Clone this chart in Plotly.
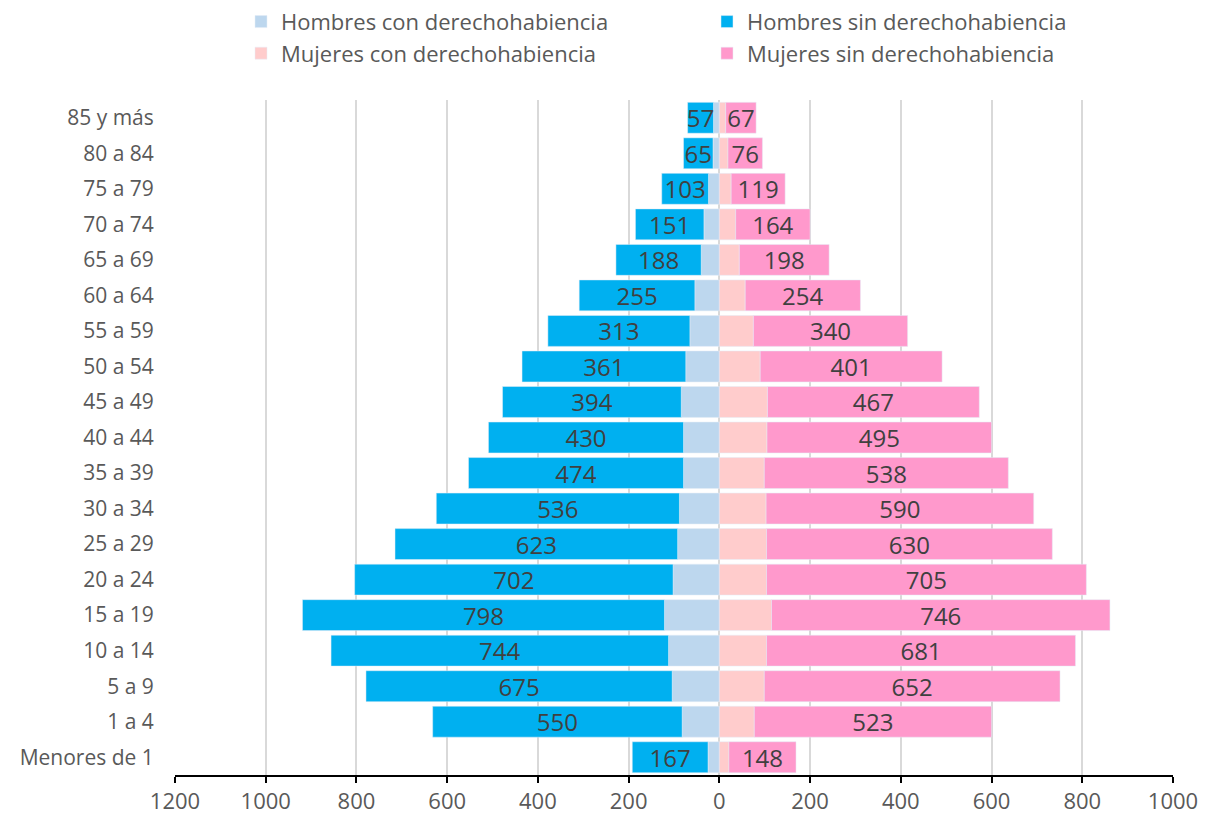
import plotly.graph_objects as go

# Grupos de edad (de arriba hacia abajo en la gráfica)
grupos = ["85 y más", "80 a 84", "75 a 79", "70 a 74", "65 a 69", "60 a 64",
          "55 a 59", "50 a 54", "45 a 49", "40 a 44", "35 a 39", "30 a 34",
          "25 a 29", "20 a 24", "15 a 19", "10 a 14", "5 a 9", "1 a 4",
          "Menores de 1"]

hombres_con = [13, 14, 24, 34, 40, 54, 65, 74, 84, 79, 79, 88,
               92, 102, 121, 112, 104, 82, 25]
hombres_sin = [57, 65, 103, 151, 188, 255, 313, 361, 394, 430, 474, 536,
               623, 702, 798, 744, 675, 550, 167]
mujeres_con = [14, 19, 26, 36, 44, 57, 75, 90, 106, 105, 99, 103,
               104, 104, 115, 104, 99, 77, 21]
mujeres_sin = [67, 76, 119, 164, 198, 254, 340, 401, 467, 495, 538, 590,
               630, 705, 746, 681, 652, 523, 148]

tick_vals = [-1200, -1000, -800, -600, -400, -200, 0, 200, 400, 600, 800, 1000]
tick_text = [str(abs(v)) for v in tick_vals]

label_font = dict(family="Open Sans", size=24, color="#404040")
etiquetas = dict(textposition="inside", insidetextanchor="middle",
                 textangle=0, textfont=label_font, constraintext="none",
                 cliponaxis=False, hoverinfo="skip")

fig = go.Figure()
fig.add_trace(go.Bar(
    y=grupos, x=[-v for v in hombres_con], orientation="h",
    name="Hombres con derechohabiencia", marker_color="#bdd7ee",
    legend="legend", legendgroup="a", hoverinfo="skip"))
fig.add_trace(go.Bar(
    y=grupos, x=[-v for v in hombres_sin], orientation="h",
    name="Hombres sin derechohabiencia", marker_color="#00b0f0",
    legend="legend2", legendgroup="b", text=hombres_sin, **etiquetas))
fig.add_trace(go.Bar(
    y=grupos, x=mujeres_con, orientation="h",
    name="Mujeres con derechohabiencia", marker_color="#ffcccc",
    legend="legend", legendgroup="c", hoverinfo="skip"))
fig.add_trace(go.Bar(
    y=grupos, x=mujeres_sin, orientation="h",
    name="Mujeres sin derechohabiencia", marker_color="#ff99cc",
    legend="legend2", legendgroup="d", text=mujeres_sin, **etiquetas))

leyenda = dict(
    orientation="v", xref="container", yref="paper",
    xanchor="left", yanchor="top", y=1.147,
    font=dict(family="Open Sans", size=22, color="#595959"),
    traceorder="normal", tracegroupgap=17, bgcolor="rgba(0,0,0,0)",
)

fig.update_layout(
    width=1222, height=819,
    barmode="relative", bargap=0.13,
    plot_bgcolor="white", paper_bgcolor="white",
    margin=dict(l=167, r=57, t=92, b=52, autoexpand=False),
    font=dict(family="Open Sans", color="#595959"),
    uniformtext=dict(mode="show", minsize=24),
    legend=dict(leyenda, x=233 / 1222),
    legend2=dict(leyenda, x=699 / 1222),
    xaxis=dict(
        range=[-1200, 1000], tickvals=tick_vals, ticktext=tick_text,
        showgrid=True, gridcolor="#d9d9d9", gridwidth=1.5,
        zeroline=True, zerolinecolor="#d9d9d9", zerolinewidth=2,
        showline=True, linecolor="black", linewidth=2,
        ticks="outside", ticklen=6, tickcolor="black", tickwidth=2,
        tickfont=dict(size=22, color="#595959"), automargin=False,
    ),
    yaxis=dict(
        autorange="reversed", showgrid=False,
        ticks="outside", ticklen=16, tickcolor="rgba(0,0,0,0)",
        tickfont=dict(size=21, color="#595959"), automargin=False,
    ),
)

fig.write_html("out.html")
